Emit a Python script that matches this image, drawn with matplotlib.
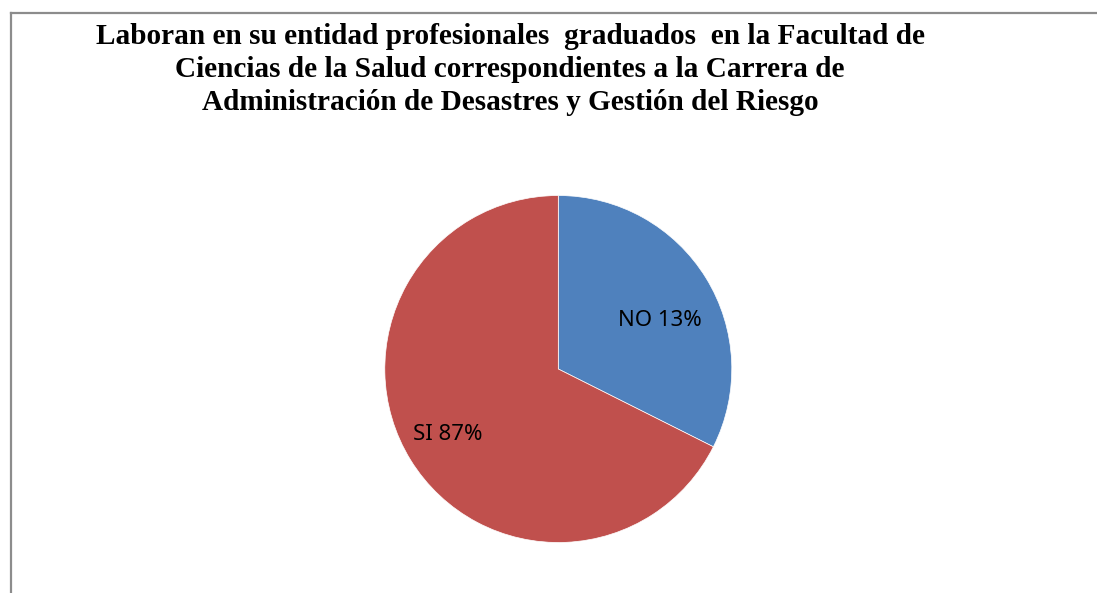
import matplotlib.pyplot as plt
from matplotlib.lines import Line2D

# datos
categorias = ['NO', 'SI']
valores = [32.4, 67.6]          # tamaño de los sectores como se ven dibujados
etiquetas = ['NO 13%', 'SI 87%']
colores = ['#4F81BD', '#C0504D']
titulo = ['Laboran en su entidad profesionales  graduados  en la Facultad de',
          'Ciencias de la Salud correspondientes a la Carrera de',
          'Administración de Desastres y Gestión del Riesgo']

W, H = 1097, 593
fig = plt.figure(figsize=(W / 100, H / 100), dpi=100)

# marco gris (arriba e izquierda)
fig.add_artist(Line2D([10.5 / W, 1.0], [1 - 12.5 / H, 1 - 12.5 / H], color='#8c8c8c', lw=1.6))
fig.add_artist(Line2D([10.5 / W, 10.5 / W], [0, 1 - 12.5 / H], color='#8c8c8c', lw=1.6))

# titulo
for i, linea in enumerate(titulo):
    fig.text(510 / W, 1 - (44.5 + 32.5 * i) / H, linea, ha='center', va='baseline',
             fontsize=21.1, fontweight='bold', family='Liberation Serif')

# pastel
cx, cy, r = 558.3, 369, 173.5
ax = fig.add_axes([(cx - r) / W, (H - cy - r) / H, 2 * r / W, 2 * r / H])
wedges, texts = ax.pie(valores, labels=etiquetas, colors=colores, startangle=90,
                       counterclock=False, labeldistance=0.69,
                       wedgeprops=dict(edgecolor='white', linewidth=0.5),
                       textprops=dict(fontsize=16, family='Noto Sans', color='black'))
# posicion de las etiquetas como en la figura original
pos_etiquetas = [(0.586, 0.277), (-0.636, -0.38)]
for t, p in zip(texts, pos_etiquetas):
    t.set_position(p)
    t.set_ha('center')
    t.set_va('center')
ax.set_xlim(-1, 1)
ax.set_ylim(-1, 1)
ax.set_aspect('equal')
ax.axis('off')

fig.savefig('out.png', dpi=100)
